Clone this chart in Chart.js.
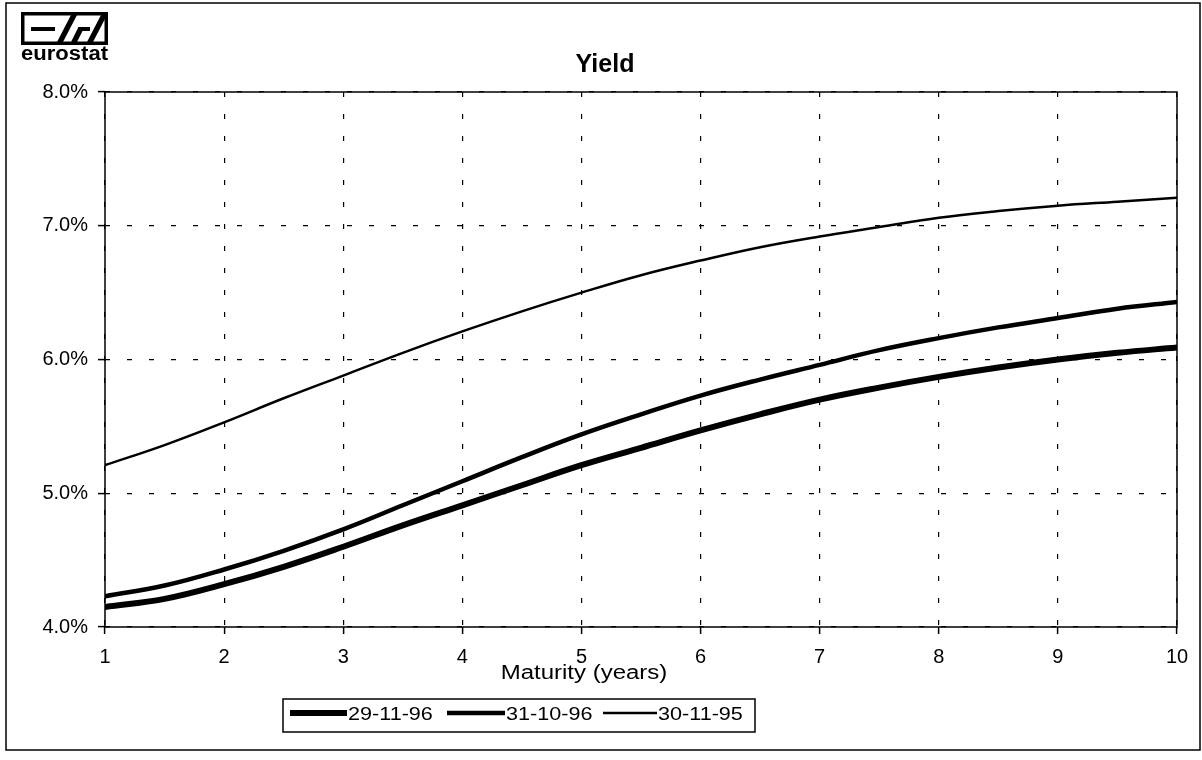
<!DOCTYPE html>
<html>
<head>
<meta charset="utf-8">
<script src="https://cdn.jsdelivr.net/npm/chart.js@4/dist/chart.umd.min.js"></script>
<style>
  html, body { margin: 0; padding: 0; background: #fff; }
  #wrap { width: 1202px; height: 760px; position: relative; }
  canvas { display: block; }
</style>
</head>
<body>
<div id="wrap"><canvas id="c" width="1202" height="760"></canvas></div>
<script>
// ---- Data ----
const maturities = [1, 1.5, 2, 2.5, 3, 3.5, 4, 4.5, 5, 5.5, 6, 6.5, 7, 7.5, 8, 8.5, 9, 9.5, 10];
const yield_29_11_96 = [4.15, 4.21, 4.32, 4.45, 4.60, 4.76, 4.91, 5.06, 5.21, 5.34, 5.47, 5.59, 5.70, 5.79, 5.87, 5.94, 6.00, 6.05, 6.09];
const yield_31_10_96 = [4.23, 4.31, 4.43, 4.57, 4.73, 4.91, 5.09, 5.27, 5.44, 5.59, 5.73, 5.85, 5.96, 6.07, 6.16, 6.24, 6.31, 6.38, 6.43];
const yield_30_11_95 = [5.21, 5.36, 5.53, 5.71, 5.88, 6.05, 6.21, 6.36, 6.50, 6.63, 6.74, 6.84, 6.92, 6.99, 7.06, 7.11, 7.15, 7.18, 7.21];
const seriesLabels = ['29-11-96', '31-10-96', '30-11-95'];
const xTickValues = [1, 2, 3, 4, 5, 6, 7, 8, 9, 10];
const yTickValues = [4, 5, 6, 7, 8];
const chartTitle = 'Yield';
const xAxisTitle = 'Maturity (years)';

const toPoints = (arr) => arr.map((v, i) => ({ x: maturities[i], y: v }));
const FONT = '"Liberation Sans", Arial, Helvetica, sans-serif';

function stretchedText(ctx, text, x, y, font, sx, align) {
  ctx.save();
  ctx.font = font;
  ctx.textBaseline = 'middle';
  ctx.textAlign = 'left';
  const w = ctx.measureText(text).width * sx;
  let left = x;
  if (align === 'center') left = x - w / 2;
  else if (align === 'right') left = x - w;
  ctx.translate(left, y);
  ctx.scale(sx, 1);
  ctx.fillStyle = '#000';
  ctx.fillText(text, 0, 0);
  ctx.restore();
  return w;
}

function para(ctx, x1, yb, x2, yt, w) {
  ctx.beginPath();
  ctx.moveTo(x1, yb); ctx.lineTo(x1 + w, yb);
  ctx.lineTo(x2 + w, yt); ctx.lineTo(x2, yt);
  ctx.closePath(); ctx.fill();
}

const decorPlugin = {
  id: 'decor',
  beforeDraw(chart) {
    const ctx = chart.ctx;
    ctx.save();
    ctx.fillStyle = '#fff';
    ctx.fillRect(0, 0, chart.width, chart.height);
    ctx.restore();
  },
  afterDraw(chart) {
    const ctx = chart.ctx;
    const a = chart.chartArea;
    ctx.save();
    // plot frame
    ctx.strokeStyle = '#000';
    ctx.lineWidth = 1.5;
    ctx.setLineDash([]);
    ctx.strokeRect(a.left, a.top, a.right - a.left, a.bottom - a.top);
    // outer frame
    ctx.lineWidth = 1.5;
    ctx.strokeRect(6, 3, 1194, 747);

    // title
    ctx.fillStyle = '#000';
    ctx.font = 'bold 25px ' + FONT;
    ctx.textAlign = 'center';
    ctx.textBaseline = 'middle';
    ctx.fillText(chartTitle, 605, 65);

    // x axis title
    stretchedText(ctx, xAxisTitle, 584, 673, '20px ' + FONT, 1.2, 'center');

    // legend box
    ctx.lineWidth = 1.5;
    ctx.strokeStyle = '#000';
    ctx.strokeRect(283, 699, 472, 33);
    const ds = chart.data.datasets;
    const starts = [290, 447, 603];
    const lens = [57, 58, 54];
    ds.forEach((d, i) => {
      ctx.beginPath();
      ctx.lineWidth = d.borderWidth;
      ctx.lineCap = 'butt';
      ctx.moveTo(starts[i], 713);
      ctx.lineTo(starts[i] + lens[i], 713);
      ctx.stroke();
      stretchedText(ctx, d.label, starts[i] + lens[i] + 1, 715, '18px ' + FONT, 1.2, 'left');
    });

    // eurostat logo
    const lx = 21, ly = 12, lw = 87, lh = 33;
    ctx.fillStyle = '#000';
    ctx.fillRect(lx, ly, lw, lh);
    ctx.fillStyle = '#fff';
    ctx.fillRect(lx + 3.5, ly + 3.5, lw - 7, lh - 7);
    ctx.fillStyle = '#000';
    // E middle bar
    ctx.fillRect(lx + 10, ly + 15, 24, 4);
    // slash 1
    para(ctx, lx + 36, ly + 30, lx + 50, ly + 3, 6);
    // S shape
    para(ctx, lx + 50, ly + 30, lx + 57, ly + 16, 6);
    ctx.fillRect(lx + 57, ly + 15, 12, 4);
    // slash 2
    para(ctx, lx + 66, ly + 30, lx + 80, ly + 3, 6);
    // eurostat text
    ctx.font = 'bold 20px ' + FONT;
    ctx.textAlign = 'left';
    ctx.textBaseline = 'alphabetic';
    const tw = ctx.measureText('eurostat').width;
    ctx.save();
    ctx.translate(lx, 60);
    ctx.scale(lw / tw, 1);
    ctx.fillText('eurostat', 0, 0);
    ctx.restore();
    ctx.restore();
  }
};

const chart = new Chart(document.getElementById('c'), {
  type: 'line',
  data: {
    datasets: [
      { label: seriesLabels[0], data: toPoints(yield_29_11_96), borderColor: '#000', borderWidth: 6 },
      { label: seriesLabels[1], data: toPoints(yield_31_10_96), borderColor: '#000', borderWidth: 4.5 },
      { label: seriesLabels[2], data: toPoints(yield_30_11_95), borderColor: '#000', borderWidth: 2.5 }
    ]
  },
  options: {
    responsive: false,
    animation: false,
    devicePixelRatio: 1,
    layout: { padding: { left: 0, right: 25, top: 92, bottom: 93 } },
    elements: {
      point: { radius: 0, hoverRadius: 0 },
      line: { tension: 0.4, fill: false, borderCapStyle: 'round' }
    },
    plugins: {
      legend: { display: false },
      title: { display: false },
      tooltip: { enabled: false }
    },
    scales: {
      x: {
        type: 'linear',
        min: 1, max: 10,
        afterBuildTicks: (s) => { s.ticks = xTickValues.map(v => ({ value: v })); },
        afterFit: (s) => { s.height = 40; },
        ticks: { color: '#000', font: { family: FONT, size: 20 }, padding: 11, maxRotation: 0 },
        grid: { color: '#000', lineWidth: 1.2, tickLength: 7, tickBorderDash: [], tickWidth: 1.5, tickColor: '#000' },
        border: { display: false, dash: [5, 17] }
      },
      y: {
        type: 'linear',
        min: 4, max: 8,
        afterBuildTicks: (s) => { s.ticks = yTickValues.map(v => ({ value: v })); },
        afterFit: (s) => { s.width = 105; },
        ticks: { color: '#000', font: { family: FONT, size: 20 }, padding: 10, callback: (v) => Number(v).toFixed(1) + '%' },
        grid: { color: '#000', lineWidth: 1.2, tickLength: 7, tickBorderDash: [], tickWidth: 1.5, tickColor: '#000' },
        border: { display: false, dash: [5, 17] }
      }
    }
  },
  plugins: [decorPlugin]
});
</script>
</body>
</html>
